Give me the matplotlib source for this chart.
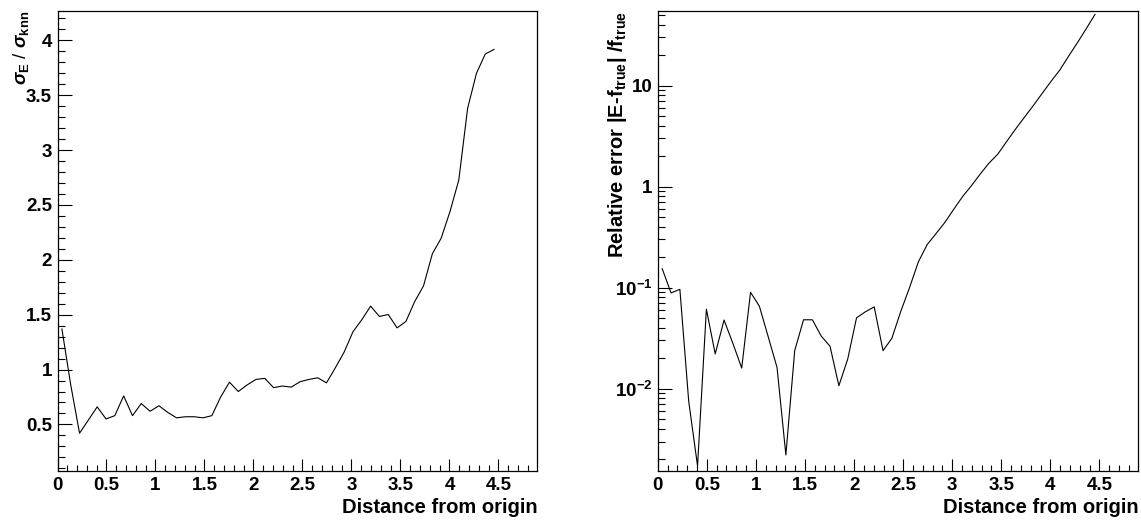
import numpy as np
import matplotlib
matplotlib.use("Agg")
import matplotlib.pyplot as plt
from matplotlib.ticker import MultipleLocator, FixedLocator, LogLocator, NullFormatter

plt.rcParams['font.family'] = ['Liberation Sans', 'DejaVu Sans']
plt.rcParams['font.weight'] = 'bold'
plt.rcParams['mathtext.fontset'] = 'custom'
plt.rcParams['mathtext.rm'] = 'Liberation Sans'
plt.rcParams['mathtext.bf'] = 'Liberation Sans:bold'
plt.rcParams['mathtext.it'] = 'Liberation Sans:italic'

# 50 bins of width 0.09 over [0, 4.5], values at bin centres
distance = 0.045 + 0.09 * np.arange(50)

sigma_ratio = [1.37, 0.86, 0.42, 0.54, 0.66, 0.55, 0.58, 0.76, 0.58, 0.69,
               0.62, 0.67, 0.61, 0.56, 0.57, 0.57, 0.56, 0.58, 0.75, 0.885,
               0.80, 0.86, 0.91, 0.92, 0.835, 0.85, 0.84, 0.889, 0.91, 0.925,
               0.879, 1.016, 1.159, 1.345, 1.454, 1.578, 1.484, 1.502, 1.38, 1.438,
               1.62, 1.763, 2.055, 2.197, 2.44, 2.728, 3.381, 3.70, 3.876, 3.918]

rel_error = [0.154, 0.0887, 0.0963, 0.0075, 0.00172, 0.0612, 0.0221, 0.0478, 0.0281, 0.016,
             0.090, 0.0655, 0.0327, 0.0162, 0.00221, 0.0238, 0.0481, 0.0481, 0.0332, 0.0263,
             0.0107, 0.0196, 0.0503, 0.0577, 0.0645, 0.0238, 0.0315, 0.058, 0.10, 0.18,
             0.267, 0.343, 0.442, 0.596, 0.796, 1.02, 1.33, 1.71, 2.10, 2.80,
             3.71, 4.85, 6.32, 8.33, 10.96, 14.2, 19.5, 26.5, 36.5, 50.7]

W, H = 1141, 523
fig = plt.figure(figsize=(W / 100, H / 100), dpi=100)

bottom = (H - 470.5) / H
height = (470.5 - 10.8) / H
ax1 = fig.add_axes([57.5 / W, bottom, 479.8 / W, height])
ax2 = fig.add_axes([657.8 / W, bottom, 480.5 / W, height])


def style_axis(ax):
    for s in ax.spines.values():
        s.set_linewidth(0.9)
    ax.tick_params(which='both', direction='in', top=False, right=False,
                   labelsize=13.5, width=0.8)
    ax.tick_params(axis='x', which='major', length=9, pad=5)
    ax.tick_params(axis='x', which='minor', length=4.5)
    ax.tick_params(axis='y', which='major', length=10, pad=4)
    ax.tick_params(axis='y', which='minor', length=5)
    ax.set_xlim(0, 4.896)
    ax.xaxis.set_minor_locator(MultipleLocator(0.1))
    ax.set_xticks(np.arange(0, 4.6, 0.5))
    ax.set_xticklabels(['%g' % t for t in np.arange(0, 4.6, 0.5)])
    ax.set_xlabel('Distance from origin', fontsize=14.5, fontweight='bold', loc='right')
    ax.xaxis.set_label_coords(1.0, -0.06)


# left: sigma ratio
ax1.plot(distance, sigma_ratio, color='black', lw=0.8)
style_axis(ax1)
ax1.set_ylim(0.08, 4.27)
ax1.set_yticks(np.arange(0.5, 4.01, 0.5))
ax1.set_yticklabels(['%g' % t for t in np.arange(0.5, 4.01, 0.5)])
ax1.yaxis.set_minor_locator(MultipleLocator(0.1))
ax1.set_ylabel(r'$\sigma_{\mathbf{E}}$ / $\sigma_{\mathbf{knn}}$', fontsize=13.5, loc='top')
ax1.yaxis.set_label_coords(-0.056, 1.0)

# right: relative error (log)
ax2.plot(distance, rel_error, color='black', lw=0.8)
style_axis(ax2)
ax2.set_yscale('log')
ax2.set_ylim(0.00155, 55)
ax2.yaxis.set_major_locator(FixedLocator([1e-2, 1e-1, 1, 10]))
ax2.set_yticklabels([r'$\mathbf{10^{-2}}$', r'$\mathbf{10^{-1}}$', '1', '10'])
ax2.yaxis.set_minor_locator(LogLocator(base=10, subs=np.arange(2, 10)))
ax2.yaxis.set_minor_formatter(NullFormatter())
ax2.set_ylabel(r'Relative error |E-f$_{\mathbf{true}}$| /f$_{\mathbf{true}}$',
               fontsize=14.5, fontweight='bold', loc='top')
ax2.yaxis.set_label_coords(-0.06, 1.0)

fig.savefig('out.png', dpi=100)
